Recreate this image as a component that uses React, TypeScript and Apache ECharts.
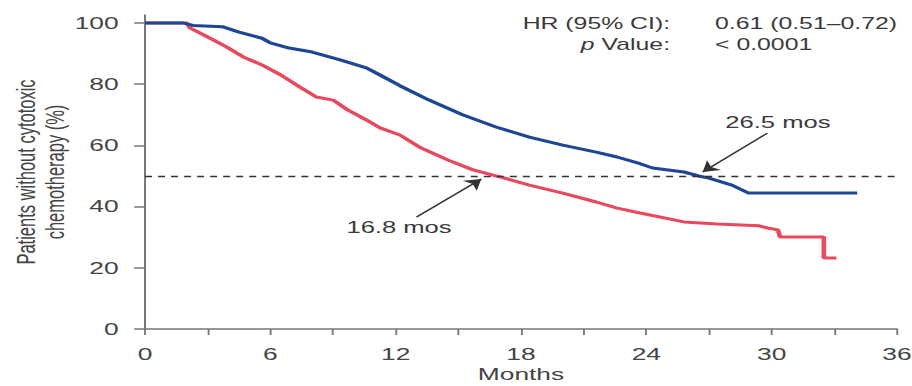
import React, { useEffect, useRef } from 'react';
import * as echarts from 'echarts';

// Kaplan–Meier style curves: [month, % of patients without cytotoxic chemotherapy]
const blueCurve: [number, number][] = [
  [0, 100], [1.8, 100], [2.3, 99.2], [3.7, 98.8], [4.5, 97], [5.6, 95], [6.0, 93.5],
  [6.9, 91.8], [8.0, 90.5], [9.3, 88], [10.6, 85.3], [11.25, 83], [12.2, 79.5],
  [13.6, 74.8], [15.2, 70], [16.8, 66], [18.4, 62.7], [20.0, 60.1], [21.6, 57.8],
  [22.6, 56.2], [23.7, 54], [24.3, 52.6], [25.8, 51.3], [26.5, 50], [27.0, 49.3],
  [28.1, 47], [28.9, 44.4], [34.1, 44.4],
];

const redCurve: [number, number][] = [
  [0, 100], [2.0, 100], [2.15, 98.4], [3.0, 95.4], [3.9, 92.2], [4.7, 88.9], [5.6, 86.3],
  [6.5, 83], [7.4, 79.1], [8.2, 75.8], [9.0, 74.8], [9.7, 71.6], [10.6, 68.3],
  [11.25, 65.7], [12.2, 63.4], [13.2, 59.2], [14.5, 55.2], [15.7, 52], [16.8, 50],
  [17.0, 49.7], [18.4, 47], [20.0, 44.4], [21.6, 41.5], [22.6, 39.5], [23.7, 37.9],
  [25.8, 35], [27.4, 34.3], [29.4, 33.7], [29.8, 33], [30.3, 32.4], [30.4, 30.1],
  [32.5, 30.1], [32.5, 23.2], [33.1, 23.2],
];

const yTicks = [0, 20, 40, 60, 80, 100];
const medianLevel = 50;

// Median annotations: label text, label anchor, arrow tail, arrow tip
const medianNotes = [
  { text: '26.5 mos', at: [30.3, 67.3], from: [29.8, 64.0], to: [26.7, 51.3] },
  { text: '16.8 mos', at: [12.16, 33.0], from: [13.0, 36.6], to: [16.1, 49.0] },
];

const statLabels = ['HR (95% CI):', '{i|p} Value:'];
const statValues = ['0.61 (0.51–0.72)', '< 0.0001'];

const BLUE = '#1d4695';
const RED = '#e8495c';
const FONT = '"Liberation Sans", Arial, Helvetica, sans-serif';
const TEXT = '#444';
const AXIS = '#777';

const BASE_W = 588;
const H = 386;
const STRETCH = 912 / BASE_W;

export default function App() {
  const ref = useRef<HTMLDivElement>(null);

  useEffect(() => {
    if (!ref.current) return;
    const chart = echarts.init(ref.current, undefined, { renderer: 'svg' });

    chart.setOption({
      animation: false,
      textStyle: { fontFamily: FONT },
      grid: { left: 93.5, right: 9.7, top: 15, bottom: 57, outerBoundsMode: 'none', containLabel: false },
      xAxis: {
        type: 'value',
        min: 0,
        max: 36,
        interval: 3,
        name: 'Months',
        nameLocation: 'middle',
        nameGap: 37,
        nameMoveOverlap: false,
        nameTextStyle: { fontSize: 17, color: TEXT, fontFamily: FONT },
        axisLine: { show: true, lineStyle: { color: AXIS, width: 1.5 } },
        axisTick: { show: true, length: 6, lineStyle: { color: AXIS, width: 1.2 } },
        axisLabel: {
          fontSize: 17,
          color: TEXT,
          margin: 17,
          formatter: (v: number) => (v % 6 === 0 ? String(v) : ''),
        },
        splitLine: { show: false },
      },
      yAxis: {
        type: 'value',
        min: 0,
        max: 102.6,
        name: 'Patients without cytotoxic\nchemotherapy (%)',
        nameLocation: 'middle',
        nameGap: 48.5,
        nameRotate: 90,
        nameMoveOverlap: false,
        nameTextStyle: { fontSize: 16.5, lineHeight: 18.5, color: TEXT, fontFamily: FONT, align: 'center' },
        axisLine: { show: true, lineStyle: { color: AXIS, width: 1.3 } },
        axisTick: { show: true, length: 7, customValues: yTicks, lineStyle: { color: AXIS, width: 1.5 } },
        axisLabel: { fontSize: 17, color: TEXT, margin: 17, customValues: yTicks },
        splitLine: { show: false },
      },
      series: [
        {
          type: 'line',
          data: redCurve,
          showSymbol: false,
          lineStyle: { color: RED, width: 3 },
          z: 3,
          markLine: {
            silent: true,
            symbol: ['none', 'arrow'],
            symbolSize: 10,
            label: { show: false },
            lineStyle: { type: 'solid', color: '#333', width: 1.3 },
            data: medianNotes.map((n) => [{ coord: n.from }, { coord: n.to }]),
          },
        },
        {
          type: 'line',
          data: blueCurve,
          showSymbol: false,
          lineStyle: { color: BLUE, width: 3 },
          z: 4,
          markLine: {
            silent: true,
            symbol: 'none',
            label: { show: false },
            lineStyle: { type: [4.5, 3.9], color: '#333', width: 1.3 },
            data: [{ yAxis: medianLevel }],
          },
        },
      ],
    });

    const noteTexts = medianNotes.map((n) => {
      const p = chart.convertToPixel({ gridIndex: 0 }, n.at) as number[];
      return {
        type: 'text',
        x: p[0],
        y: p[1],
        style: {
          text: n.text,
          fill: '#3a3a3a',
          font: `16.5px ${FONT}`,
          align: 'center',
          verticalAlign: 'middle',
        },
      };
    });

    const statRows = [23, 44];
    const statTexts: any[] = [];
    statRows.forEach((y, i) => {
      statTexts.push({
        type: 'text',
        x: 432,
        y,
        style: {
          text: statLabels[i],
          fill: '#3a3a3a',
          font: `16px ${FONT}`,
          align: 'right',
          verticalAlign: 'middle',
          rich: { i: { fontStyle: 'italic', fontSize: 16, fill: '#3a3a3a', fontFamily: FONT } },
        },
      });
      statTexts.push({
        type: 'text',
        x: 461,
        y,
        style: {
          text: statValues[i],
          fill: '#3a3a3a',
          font: `16px ${FONT}`,
          align: 'left',
          verticalAlign: 'middle',
        },
      });
    });

    chart.setOption({ graphic: [...noteTexts, ...statTexts] });

    return () => chart.dispose();
  }, []);

  return (
    <div
      ref={ref}
      style={{
        position: 'fixed',
        left: 0,
        top: 0,
        width: BASE_W,
        height: H,
        transform: `scaleX(${STRETCH})`,
        transformOrigin: '0 0',
        background: '#fff',
      }}
    />
  );
}
